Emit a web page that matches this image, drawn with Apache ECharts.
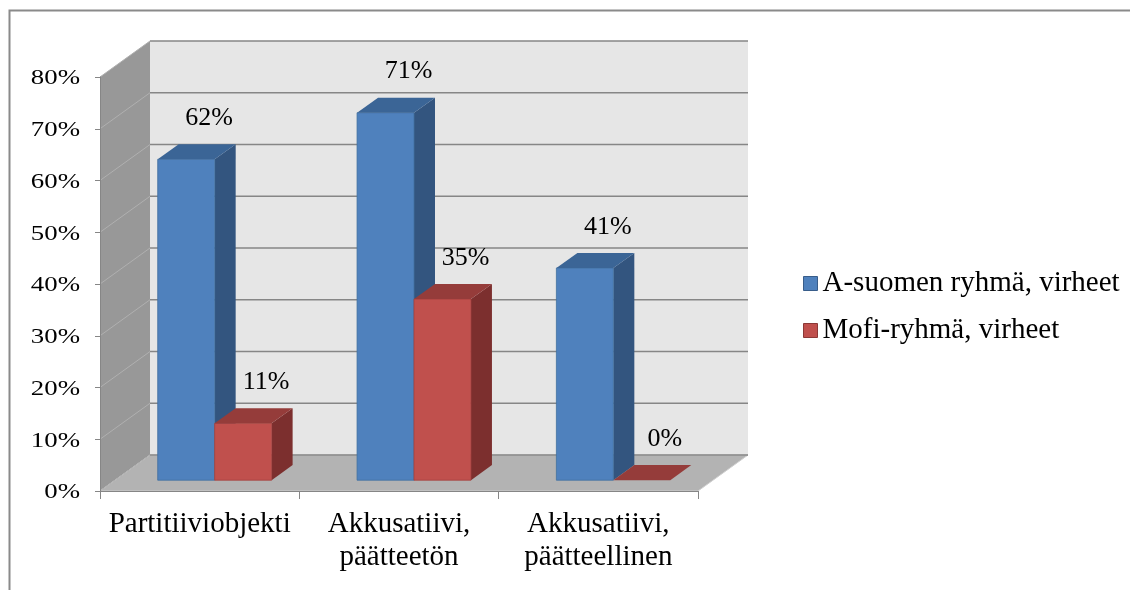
<!DOCTYPE html>
<html>
<head>
<meta charset="utf-8">
<title>Virheet ryhmittäin</title>
<script src="https://cdn.jsdelivr.net/npm/echarts@6/dist/echarts.min.js"></script>
<style>
  html, body { margin: 0; padding: 0; background: #fff; }
  #chart { width: 1130px; height: 590px; }
</style>
</head>
<body>
<div id="chart"></div>
<script>
// Categories, series values (percent) and value-axis ticks
const categories = ['Partitiiviobjekti', 'Akkusatiivi,\npäätteetön', 'Akkusatiivi,\npäätteellinen'];
const seriesNames = ['A-suomen ryhmä, virheet', 'Mofi-ryhmä, virheet'];
const aSuomiValues = [62, 71, 41];
const mofiValues = [11, 35, 0];
const yTicks = [0, 10, 20, 30, 40, 50, 60, 70, 80];

// 3D look: depth of the plot box and where the bars sit inside it
const DX = 50, DY = -36;        // offset from the front plane to the back wall
const BAR_FRONT = 0.3;          // bars start 30 % into the depth
const BAR_DEPTH = 0.42;         // bars occupy 42 % of the depth
const GAP = 1.5;                // gap width between clusters, in bar widths
const FONT = 'Liberation Serif, Times New Roman, serif';

const palette = [
  { front: '#4F81BD', top: '#3B6596', side: '#33557F', edge: '#41709F', legendBorder: '#385D8A' },
  { front: '#C0504D', top: '#953C3A', side: '#7C2F2E', edge: '#A4403D', legendBorder: '#8C3836' }
];

// Back wall, side wall, floor, gridlines and value labels
function renderWalls(params, api) {
  const cs = params.coordSys;
  const x0 = cs.x, x1 = cs.x + cs.width;
  const yTop = cs.y, yBot = cs.y + cs.height;
  const children = [
    { type: 'polygon', shape: { points: [[x0, yTop], [x0 + DX, yTop + DY], [x0 + DX, yBot + DY], [x0, yBot]] },
      style: { fill: '#989898' } },
    { type: 'rect', shape: { x: x0 + DX, y: yTop + DY, width: cs.width, height: cs.height },
      style: { fill: '#E6E6E6' } },
    { type: 'polygon', shape: { points: [[x0, yBot], [x1, yBot], [x1 + DX, yBot + DY], [x0 + DX, yBot + DY]] },
      style: { fill: '#B3B3B3', stroke: '#CFCFCF', lineWidth: 1 } }
  ];
  yTicks.forEach(function (v) {
    const y = api.coord([0, v])[1];
    children.push({ type: 'line', shape: { x1: x0, y1: y, x2: x0 + DX, y2: y + DY },
      style: { stroke: '#B0B0B0', lineWidth: 1 } });
    children.push({ type: 'line', shape: { x1: x0 + DX, y1: y + DY, x2: x1 + DX, y2: y + DY },
      style: { stroke: '#868686', lineWidth: 1.5 } });
    children.push({ type: 'text', x: x0 - 20, y: y + 1.5, scaleX: 1.22,
      style: { text: v + '%', fill: '#000', fontSize: 22, fontFamily: FONT, align: 'right', verticalAlign: 'middle' } });
  });
  return { type: 'group', children: children };
}

// One 3D column: front face, top face, side face and its value label
function barRenderer(seriesIdx) {
  const c = palette[seriesIdx];
  return function (params, api) {
    const cat = api.value(0), val = api.value(1);
    const base = api.coord([cat, 0]);
    const top = api.coord([cat, val]);
    const band = api.size([1, 0])[0];
    const barW = band / (2 + GAP);
    const fx = DX * BAR_FRONT, fy = DY * BAR_FRONT;
    const bx = DX * BAR_DEPTH, by = DY * BAR_DEPTH;
    const xL = base[0] - barW + seriesIdx * barW + fx;
    const xR = xL + barW;
    const yT = top[1] + fy, yB = base[1] + fy;
    const children = [];
    if (yB - yT > 0.5) {
      children.push({ type: 'polygon', shape: { points: [[xR, yT], [xR + bx, yT + by], [xR + bx, yB + by], [xR, yB]] },
        style: { fill: c.side } });
      children.push({ type: 'rect', shape: { x: xL, y: yT, width: barW, height: yB - yT },
        style: { fill: c.front, stroke: c.edge, lineWidth: 0.8 } });
    }
    children.push({ type: 'polygon', shape: { points: [[xL, yT], [xL + bx, yT + by], [xR + bx, yT + by], [xR, yT]] },
      style: { fill: c.top } });
    children.push({ type: 'text', x: (xL + xR) / 2 + bx + 2, y: yT + by - 26,
      style: { text: val + '%', fill: '#000', fontSize: 26, fontFamily: FONT, align: 'center', verticalAlign: 'middle' } });
    return { type: 'group', children: children };
  };
}

const chart = echarts.init(document.getElementById('chart'), null, { renderer: 'canvas' });
chart.setOption({
  backgroundColor: '#fff',
  animation: false,
  graphic: [{
    type: 'rect', left: 7, top: 8, z: -10,
    shape: { x: 0, y: 0, width: 1200, height: 700 },
    style: { fill: 'none', stroke: '#8A8A8A', lineWidth: 2 }
  }],
  grid: { left: 100, top: 77, width: 598, height: 414, outerBoundsMode: 'none', containLabel: false },
  legend: {
    orient: 'vertical', left: 798, top: 262,
    itemWidth: 14, itemHeight: 14, itemGap: 14, icon: 'rect',
    textStyle: { fontSize: 29, lineHeight: 33, fontFamily: FONT, color: '#000' },
    data: seriesNames.map(function (n, i) {
      return { name: n, itemStyle: { color: palette[i].front, borderColor: palette[i].legendBorder, borderWidth: 1 } };
    })
  },
  xAxis: {
    type: 'category', data: categories, z: 10,
    axisLine: { show: true, lineStyle: { color: '#868686', width: 1 } },
    axisTick: { show: true, length: 8, lineStyle: { color: '#868686' } },
    axisLabel: { margin: 17, interval: 0, fontSize: 29, lineHeight: 33, fontFamily: FONT, color: '#000' },
    splitLine: { show: false }
  },
  yAxis: {
    type: 'value', min: 0, max: 80, interval: 10, z: 10,
    axisLine: { show: true, lineStyle: { color: '#868686', width: 1 } },
    axisTick: { show: true, length: 5, lineStyle: { color: '#868686' } },
    axisLabel: { show: false },
    splitLine: { show: false }
  },
  series: [
    { type: 'custom', name: 'walls', silent: true, renderItem: renderWalls, data: [[0, 0]] },
    { type: 'custom', name: seriesNames[0], renderItem: barRenderer(0),
      itemStyle: { color: palette[0].front },
      data: categories.map(function (c, i) { return [i, aSuomiValues[i]]; }) },
    { type: 'custom', name: seriesNames[1], renderItem: barRenderer(1),
      itemStyle: { color: palette[1].front },
      data: categories.map(function (c, i) { return [i, mofiValues[i]]; }) }
  ]
});
</script>
</body>
</html>
